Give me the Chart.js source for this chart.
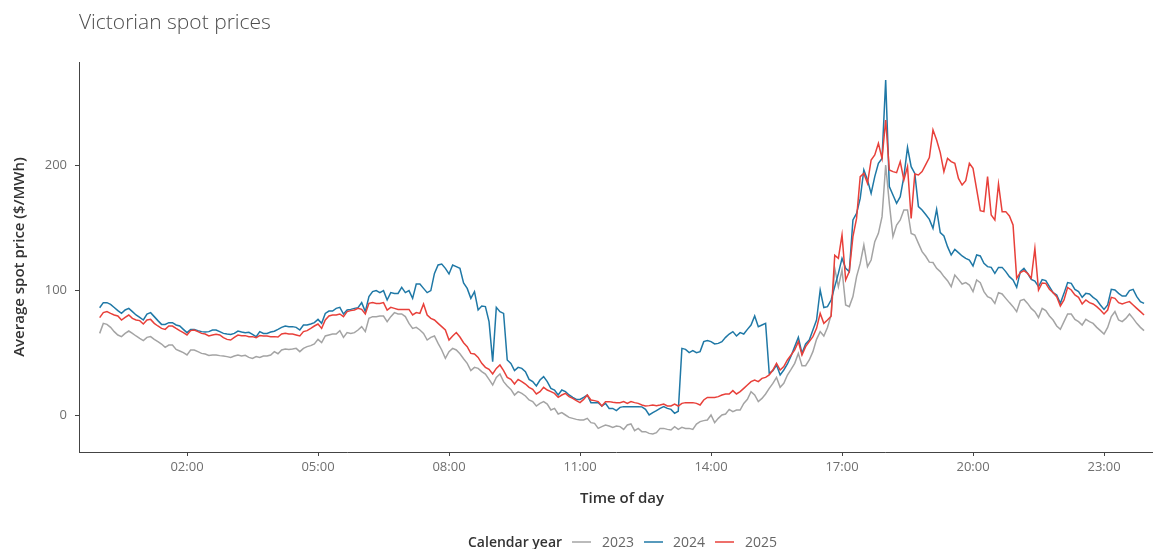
<!DOCTYPE html>
<html>
<head>
<meta charset="utf-8">
<script src="https://cdn.jsdelivr.net/npm/chart.js@4"></script>
<style>
  body { margin: 0; background: #fff; }
  #wrap { position: relative; width: 1153px; height: 549px; }
</style>
</head>
<body>
<div id="wrap"><canvas id="spotChart"></canvas></div>
<script>
// 5-minute intervals, 00:00 .. 23:55
const minutes = [];
for (let k = 0; k < 288; k++) minutes.push(k * 5);

const tickLabels = ["02:00", "05:00", "08:00", "11:00", "14:00", "17:00", "20:00", "23:00"];
const yTicks = [0, 100, 200];
const years = ["2023", "2024", "2025"];
const colours = ["#a4a4a4", "#1f78a6", "#e8403a"];

const price2023 = [
  65.3, 73.3, 72.5, 70.1, 66.7, 64, 62.7, 65.3, 67.2, 65.3, 63.2, 61.3,
  59.5, 62.1, 62.7, 60.5, 58.7, 56.8, 54.1, 56, 56, 52.5, 51.2, 49.9,
  48, 52, 52, 50.7, 49.3, 48.8, 47.7, 48, 48, 47.5, 47.2, 46.7,
  46.1, 47.2, 48, 47.2, 47.7, 46.1, 45.3, 46.7, 46.1, 47.2, 47.2, 48,
  50.7, 49, 52, 52.8, 52.5, 52.8, 53.3, 50.7, 53.3, 54.7, 55.5, 56.8,
  60.5, 57.9, 63.2, 64, 64.8, 64.8, 67.5, 62.1, 65.9, 65.3, 65.9, 68,
  70.7, 66.7, 77.3, 78.7, 78.7, 79.2, 79.2, 74.7, 78.7, 81.9, 80.8, 80.8,
  78.7, 73.3, 69.3, 70.1, 68, 65.3, 60, 62.1, 63.2, 57.3, 52, 45.3,
  50.7, 53.3, 52, 49, 45, 41.3, 35.5, 38.1, 37.3, 34.7, 32.8, 28.5,
  24, 30.1, 32.8, 26.7, 23.2, 20.5, 16, 18.7, 17.3, 15.2, 12, 10.7,
  7.2, 9.3, 10.7, 8.8, 4, 5.3, 0.8, 1.9, 0, -1.9, -2.7, -3.5,
  -4, -4, -2.7, -6.1, -6.7, -10.7, -9.3, -8, -8.8, -9.9, -8.8, -9.3,
  -11.5, -8, -7.2, -12.5, -10.7, -13.3, -13.3, -14.7, -15.2, -14.1, -10.7, -10.7,
  -11.5, -12, -9.3, -11.5, -9.9, -10.7, -10.7, -11.5, -7.2, -5.3, -4.5, -4,
  0, -6.1, -2.7, 0, 0.8, 4.5, 2.7, 4, 4, 9.3, 12.5, 18.7,
  16, 10.7, 13.3, 16.8, 21.3, 25.3, 30.1, 22.1, 25.3, 32, 36.5, 41.3,
  49.3, 39.5, 39.5, 44, 50.7, 60.5, 66.7, 63.2, 70, 80, 117.3, 102.7,
  116, 88, 86.7, 94.7, 110.7, 121.3, 136, 118.7, 124, 138.7, 145.3, 158.7,
  200, 169.3, 142.7, 152, 156, 164, 164, 145.3, 144, 137.3, 130.7, 127,
  122.3, 122, 117.3, 114.7, 110.7, 107.5, 102.7, 112, 108.5, 104.8, 105.9, 104,
  98.7, 108, 105.9, 98.7, 94.7, 93.3, 89.3, 97.9, 96.8, 93.3, 89.9, 86.7,
  82.7, 91.5, 92.5, 89.3, 85.3, 82.7, 78, 85.3, 83.5, 79.2, 76, 71.2,
  68.5, 74.7, 80.8, 80.8, 76.5, 74.7, 72, 76.5, 74.7, 73.3, 70.1, 67.5,
  64.8, 70.1, 78.7, 82.7, 76, 74.7, 77.3, 80.8, 77.3, 73.3, 70.1, 67.5
];

const price2024 = [
  85.8, 89.9, 89.9, 88.5, 86, 83.5, 81.3, 84, 85.3, 82.7, 80, 78.1,
  76, 80.8, 81.9, 78.7, 75.5, 72.5, 72.5, 73.9, 73.9, 72, 71.2, 68.5,
  65.9, 68.5, 68.5, 67.5, 66.7, 66.4, 66.7, 68, 68, 66.7, 65.3, 64.8,
  64.5, 65.3, 67.2, 66.4, 65.9, 66.1, 64.5, 62.7, 66.7, 65.3, 65.3, 66.4,
  67, 68.5, 70.1, 71.2, 70.7, 70.7, 70.1, 68, 72, 72, 72.8, 73.9,
  76.5, 73.3, 81.3, 83.2, 83.2, 85.3, 86.1, 80.8, 84, 84.5, 85.3, 85.9,
  89.9, 82.7, 94.7, 98.7, 99.5, 97.9, 99.5, 92, 97.9, 97.3, 97.3, 102.1,
  97.9, 99.5, 93.3, 104.8, 104.8, 101.3, 97.9, 99.5, 113.3, 120, 120.8, 117.3,
  112.8, 120, 118.7, 117.3, 105.6, 101.3, 93.3, 98.7, 84, 87.2, 86.7, 74.7,
  42.7, 86.1, 82.7, 81.3, 44, 41.3, 35.5, 38.1, 37.3, 34.7, 28.5, 26.7,
  23.2, 28, 30.7, 26.7, 21.3, 20, 16, 20, 18.7, 16, 14.1, 12.5,
  12.5, 14.1, 16, 9.9, 9.9, 9.9, 7.2, 9.3, 5.3, 5.3, 3.5, 6.1,
  6.7, 6.7, 6.7, 6.7, 6.7, 6.5, 4.5, 0, 1.9, 3.5, 5.3, 6.7,
  5.3, 4.5, 1.3, 3, 53.3, 52.5, 49.9, 51.5, 49.9, 50.7, 58.7, 59.5,
  58.7, 56.8, 57.3, 58.7, 62.1, 64.8, 66.7, 63.2, 65.9, 64.8, 68.5, 72,
  79.2, 70.7, 72, 73.3, 33.3, 35.5, 40, 32, 36, 40.8, 47.2, 54.7,
  62.1, 49.3, 56.8, 60, 68, 76, 100, 86, 86.7, 92, 102.7, 113.3,
  125.3, 117.3, 114.7, 156, 161.3, 173.3, 196, 188, 177.3, 190.7, 201.3, 205.3,
  268, 182.7, 176, 169.3, 174.7, 190.7, 214.1, 198.7, 193.3, 166.7, 164, 160.4,
  156.5, 149.3, 164.5, 145.9, 143.2, 134.7, 128, 132.5, 129.9, 127.2, 125.3, 124,
  119.2, 128, 127.2, 121.3, 118.7, 118.1, 113.3, 118.1, 118.1, 114.7, 110.7, 108,
  102.1, 114.7, 117.3, 113.3, 108.5, 107.1, 102.7, 108.3, 107.5, 102.7, 97.9, 96,
  89.3, 97.3, 105.9, 105.3, 100.5, 98.7, 94.1, 97.3, 96.8, 94.1, 92, 88,
  84.5, 88, 100.5, 100, 97.3, 95.2, 95.2, 99.5, 100.5, 94.7, 90.7, 89.3
];

const price2025 = [
  77.9, 81.9, 82.7, 81.3, 80, 79.2, 76, 78.1, 80, 77.3, 76, 75.5,
  72.8, 76, 76.5, 73.3, 71.2, 69.3, 68.5, 71.2, 71.2, 69.3, 67.5, 65.9,
  64, 67.5, 68, 66.7, 65.3, 64.8, 63.2, 64, 64.5, 64, 61.9, 60.5,
  60, 62.1, 64, 63.5, 63.5, 62.7, 62.7, 61.9, 63.5, 63.2, 63.2, 62.7,
  62.7, 62.4, 64.8, 65.3, 64.8, 64.8, 64, 63.2, 66.7, 67.5, 69.3, 71.2,
  72.8, 69.3, 76, 79.2, 80, 80, 80.8, 78.7, 82.7, 83.5, 84, 85.3,
  84.5, 80.8, 89.3, 89.9, 89.3, 89.3, 89.9, 84, 86.1, 85.3, 84.5, 84.5,
  84.5, 84.5, 80, 81.9, 81.3, 88.8, 80, 77.3, 76, 73.3, 70.7, 68,
  60, 63.2, 66, 62.4, 57.8, 54.7, 49.3, 48.8, 46.1, 41.3, 38.1, 36.5,
  32.8, 37.3, 40, 35.5, 30.1, 28.5, 24.8, 28.5, 26.7, 24.8, 22.1, 20.5,
  16.8, 18.7, 22.1, 20, 18.7, 17.3, 14.1, 16, 17.3, 14.7, 13.3, 11.5,
  9.9, 12.5, 16, 12, 11.5, 10.7, 7.2, 10.7, 10.7, 10.2, 9.9, 9.9,
  10.7, 9.3, 10.7, 9.9, 9.3, 8, 7.3, 7.5, 8, 7.5, 8, 8.8,
  7.2, 7.2, 8.8, 7.2, 9.3, 9.9, 9.9, 9.9, 9.3, 8, 12, 14.1,
  14.1, 14.1, 14.7, 16, 16.8, 16.8, 19.5, 16.8, 18.7, 21.3, 24, 26.7,
  28, 26.7, 29.3, 30.1, 32, 36, 41.3, 36, 38.7, 44, 48, 52,
  58.7, 48, 54.7, 58.7, 62.7, 69.3, 81.3, 73.3, 76, 79, 127.7, 125.3,
  144, 108, 114.7, 142.7, 157.3, 190.7, 193.3, 185.3, 204, 208, 217.3, 205.3,
  236, 196, 194.7, 193.9, 202.7, 188, 198.7, 157.3, 192.8, 192, 194.7, 200.3,
  206, 228, 220, 209.9, 194.7, 205.3, 202.7, 201.3, 189.3, 184, 187.5, 201.3,
  197.3, 180.5, 163.5, 162.7, 190.7, 160, 156, 184.8, 162.7, 162.7, 159.2, 152,
  109.3, 113.9, 115.5, 113.3, 109.3, 133.3, 100, 105.6, 105.3, 100.5, 97.9, 94.7,
  87.2, 92, 102.1, 100, 96, 94.1, 88.8, 92, 89.9, 88.8, 86.7, 84,
  80.8, 84, 94.1, 93.3, 89.9, 88.8, 89.9, 90.7, 88, 85.3, 82.7, 80
];

const series = [price2023, price2024, price2025];

function toMinutes(t) {
  const [h, m] = t.split(":").map(Number);
  return h * 60 + m;
}
function toLabel(v) {
  const h = Math.floor(v / 60), m = v % 60;
  return String(h).padStart(2, "0") + ":" + String(m).padStart(2, "0");
}

// titles and the inline legend, drawn straight onto the canvas
const decorations = {
  id: "decorations",
  afterDraw(chart) {
    const ctx = chart.ctx;
    ctx.save();
    ctx.textBaseline = "alphabetic";

    ctx.fillStyle = "#4d4d4d";
    ctx.font = "300 21px 'Open Sans'";
    ctx.textAlign = "left";
    ctx.fillText("Victorian spot prices", 79, 29);

    ctx.fillStyle = "#333";
    ctx.font = "600 15px 'Open Sans'";
    ctx.textAlign = "center";
    ctx.fillText("Time of day", 622, 503);

    ctx.save();
    ctx.translate(24, 257);
    ctx.rotate(-Math.PI / 2);
    ctx.fillText("Average spot price ($/MWh)", 0, 0);
    ctx.restore();

    // legend
    ctx.textAlign = "left";
    ctx.font = "600 14px 'Open Sans'";
    ctx.fillStyle = "#333";
    ctx.fillText("Calendar year", 468, 547);
    const swatchX = [572, 644, 715];
    const textX = [602, 673, 745];
    ctx.font = "14px 'Open Sans'";
    years.forEach((y, k) => {
      ctx.strokeStyle = colours[k];
      ctx.lineWidth = 1.5;
      ctx.beginPath();
      ctx.moveTo(swatchX[k], 542);
      ctx.lineTo(swatchX[k] + 19, 542);
      ctx.stroke();
      ctx.fillStyle = "#666";
      ctx.fillText(y, textX[k], 547);
    });
    ctx.restore();
  }
};

new Chart(document.getElementById("spotChart"), {
  type: "line",
  data: {
    datasets: years.map((y, k) => ({
      label: y,
      data: minutes.map((m, j) => ({ x: m, y: series[k][j] })),
      borderColor: colours[k],
      borderWidth: 1.5,
      pointRadius: 0,
      tension: 0,
      fill: false,
      order: 2 - k
    }))
  },
  plugins: [decorations],
  options: {
    responsive: true,
    maintainAspectRatio: false,
    animation: false,
    layout: { padding: { top: 62, left: 0, right: 0, bottom: 0 } },
    plugins: {
      legend: { display: false },
      title: { display: false },
      tooltip: { enabled: false }
    },
    scales: {
      x: {
        type: "linear",
        min: -28.4,
        max: 1447.3,
        afterFit(scale) { scale.height = 97; },
        afterBuildTicks(scale) {
          scale.ticks = tickLabels.map(t => ({ value: toMinutes(t) }));
        },
        ticks: {
          color: "#6f6f6f",
          font: { family: "Open Sans", size: 13 },
          padding: 3,
          maxRotation: 0,
          callback: v => toLabel(v)
        },
        grid: { drawOnChartArea: false, drawTicks: true, tickLength: 4, tickColor: "#444" },
        border: { display: true, color: "#444", width: 1 }
      },
      y: {
        min: -29.6,
        max: 282.4,
        afterFit(scale) { scale.width = 79; },
        afterBuildTicks(scale) {
          scale.ticks = yTicks.map(v => ({ value: v }));
        },
        ticks: {
          color: "#6f6f6f",
          font: { family: "Open Sans", size: 13 },
          padding: 8
        },
        grid: { drawOnChartArea: false, drawTicks: true, tickLength: 4, tickColor: "#444" },
        border: { display: true, color: "#444", width: 1 }
      }
    }
  }
});
</script>
</body>
</html>
